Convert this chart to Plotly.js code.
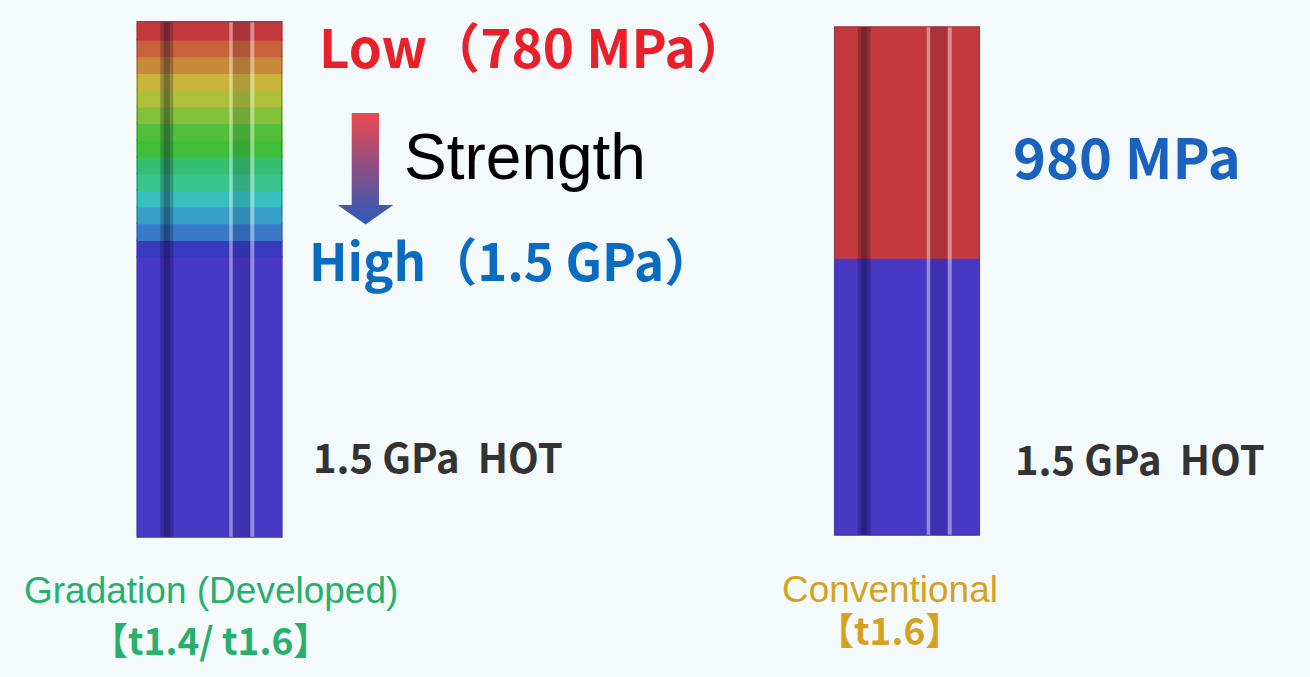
<!DOCTYPE html>
<html><head><meta charset="utf-8">
<script src="https://cdn.plot.ly/plotly-3.0.1.min.js"></script>
<style>html,body{margin:0;padding:0;background:#f4f9fc;}#chart{width:1310px;height:677px;}</style>
</head><body><div id="chart"></div>
<script>
// ---------- data ----------
const categories = ['Gradation (Developed)', 'Conventional'];
// band lengths, bottom -> top (relative length units along the part)
const gradBandHeights = [280, 16.8, 16.7, 16.7, 16.7, 16.7, 16.7, 16.7, 16.7, 16.7, 16.7, 16.7, 16.7, 16.7, 17.9];
const gradBandColors = ['#4838c4','#3a3ac0','#3a78c8','#38a0c8','#38c0c0','#3ac490','#34c070','#40c03a',
                        '#52c03a','#84c03a','#aec03a','#c8b43a','#c88a3a','#c8623a','#c43a3c'];
const convBandHeights = [277, 231];
const convBandColors = ['#4838c4','#c43a3c'];
const convBaseStart = 2;

const textLow = '<b>Low（780 MPa）</b>';
const textHigh = '<b>High（1.5 GPa）</b>';
const textStrength = 'Strength';
const text980 = '<b>980 MPa</b>';
const textHot = '<b>1.5 GPa  HOT</b>';
const textGradation = 'Gradation (Developed)';
const textGradThk = '<b>【t1.4/ t1.6】</b>';
const textConv = 'Conventional';
const textConvThk = '<b>【t1.6】</b>';

// ---------- layout helpers ----------
const W = 1310, H = 677;
const xRange = [-0.3004, 1.5778];
const pxPerUnit = W / (xRange[1] - xRange[0]);
const yRange = [-140, 537];
const barWidth = 0.2072;
const px = v => v / W;
const py = v => 1 - v / H;

function cumBase(heights, start) {
  const b = []; let s = start;
  heights.forEach(h => { b.push(s); s += h; });
  return b;
}
function barTrace(cat, heights, colors, start) {
  return {
    type: 'bar', x: heights.map(() => cat), y: heights, base: cumBase(heights, start),
    width: heights.map(() => barWidth),
    marker: {color: colors, line: {width: 1.6, color: colors}},
    hoverinfo: 'x+y', showlegend: false
  };
}

const traces = [
  barTrace(categories[0], gradBandHeights, gradBandColors, 0),
  barTrace(categories[1], convBandHeights, convBandColors, convBaseStart)
];

// gradient arrow (decoration, pixel-based)
const arrowPx = [[351.7,113],[379,113],[379,205],[393.3,205],[365.5,224.5],[337.7,205],[351.7,205],[351.7,113]];
traces.push({
  type: 'scatter', xaxis: 'x2', yaxis: 'y', mode: 'lines',
  x: arrowPx.map(p => p[0]), y: arrowPx.map(p => 537 - p[1]),
  fill: 'toself', line: {width: 0, color: 'rgba(0,0,0,0)'},
  fillgradient: {type: 'vertical', colorscale: [[0, '#2a5cb8'], [0.5, '#8a4f86'], [1, '#ec4a4e']]},
  hoverinfo: 'skip', showlegend: false
});

// stripe decoration (offsets in px from bar left edge)
const stripes = [
  [23, 36, 'rgba(0,0,30,0.22)'],
  [26.5, 32.5, 'rgba(0,0,30,0.22)'],
  [92, 95.5, 'rgba(255,255,255,0.42)'],
  [95.5, 113, 'rgba(0,0,40,0.13)'],
  [113, 117, 'rgba(255,255,255,0.42)']
];
const shapes = [];
[[0, gradBandHeights, 0], [1, convBandHeights, convBaseStart]].forEach(([i, hs, b0]) => {
  const left = i - barWidth / 2;
  const top = b0 + hs.reduce((a, c) => a + c, 0);
  stripes.forEach(([a, b, c]) => shapes.push({
    type: 'rect', xref: 'x', yref: 'y', x0: left + a / pxPerUnit, x1: left + b / pxPerUnit,
    y0: b0, y1: top, fillcolor: c, line: {width: 0}, layer: 'above'
  }));
  shapes.push({type: 'rect', xref: 'x', yref: 'y', x0: left, x1: i + barWidth / 2, y0: b0, y1: top,
    line: {width: 1, color: 'rgba(70,70,100,0.55)'}, fillcolor: 'rgba(0,0,0,0)', layer: 'above'});
});

const CJK = '"Noto Sans CJK JP", "Noto Sans", sans-serif';
const SANS = '"Liberation Sans", Arial, sans-serif';
function ann(text, x, y, size, color, family, anchor) {
  return {text, x: px(x), y: py(y), xref: 'paper', yref: 'paper', showarrow: false,
    xanchor: anchor || 'left', yanchor: 'middle', font: {size, color, family}};
}
const annotations = [
  ann(textLow, 317, 45, 53, '#e8202a', CJK),
  ann(textStrength, 402, 157, 64, '#000000', SANS),
  ann(textHigh, 307, 259, 51, '#0a6cc0', CJK),
  ann(text980, 1011, 154, 56, '#1a62c0', CJK),
  ann(textHot, 311, 456, 40, '#333333', CJK),
  ann(textHot, 1013, 458, 40, '#333333', CJK),
  ann(textGradation, 211, 590, 37, '#26b06c', SANS, 'center'),
  ann(textGradThk, 210, 639, 37, '#26b06c', CJK, 'center'),
  ann(textConv, 890, 589, 37, '#d4a21e', SANS, 'center'),
  ann(textConvThk, 889, 629, 37, '#d4a21e', CJK, 'center')
];

const layout = {
  width: W, height: H, margin: {l: 0, r: 0, t: 0, b: 0},
  paper_bgcolor: '#f4f9fc', plot_bgcolor: 'rgba(0,0,0,0)',
  barmode: 'overlay', showlegend: false,
  xaxis: {type: 'category', categoryorder: 'array', categoryarray: categories, range: xRange,
    visible: false, fixedrange: true},
  xaxis2: {range: [0, W], overlaying: 'x', visible: false, fixedrange: true},
  yaxis: {range: yRange, visible: false, fixedrange: true},
  shapes, annotations
};
Plotly.newPlot('chart', traces, layout, {displayModeBar: false, staticPlot: true});
</script></body></html>
